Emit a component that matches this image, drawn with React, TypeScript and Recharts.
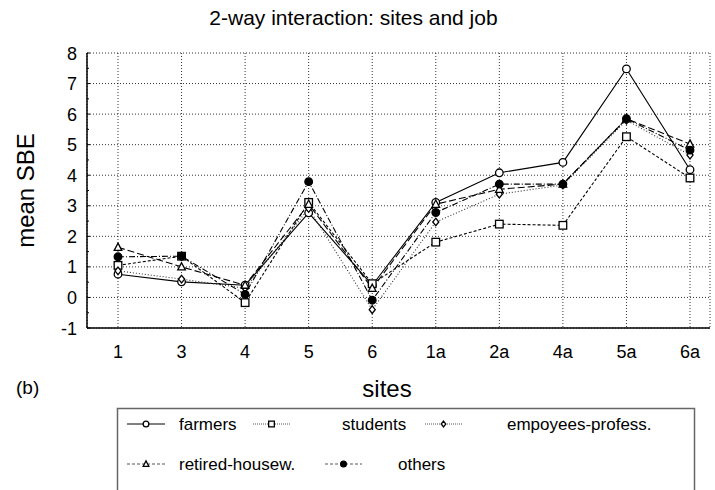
import { LineChart, Line, XAxis, YAxis, CartesianGrid, Label } from 'recharts';

const sites = ['1', '3', '4', '5', '6', '1a', '2a', '4a', '5a', '6a'];
const farmers = [0.76, 0.51, 0.4, 2.77, 0.4, 3.11, 4.08, 4.42, 7.48, 4.18];
const students = [1.05, 1.35, -0.17, 3.11, 0.45, 1.81, 2.4, 2.36, 5.26, 3.91];
const employees = [0.87, 0.6, 0.3, 2.91, -0.4, 2.47, 3.38, 3.68, 5.8, 4.66];
const retired = [1.64, 1.0, 0.4, 3.05, 0.3, 3.05, 3.54, 3.71, 5.85, 5.02];
const others = [1.33, 1.35, 0.1, 3.79, -0.09, 2.78, 3.71, 3.71, 5.85, 4.82];
const yTicks = [-1, -0.5, 0, 0.5, 1, 1.5, 2, 2.5, 3, 3.5, 4, 4.5, 5, 5.5, 6, 6.5, 7, 7.5, 8];
const yGrid = [-1, 0, 1, 2, 3, 4, 5, 6, 7, 8];

const data = sites.map((s, i) => ({
  site: s,
  farmers: farmers[i],
  students: students[i],
  employees: employees[i],
  retired: retired[i],
  others: others[i],
}));

const FONT = '"Liberation Sans", Arial, sans-serif';

type Shape = 'circle' | 'square' | 'diamond' | 'triangle' | 'dot';

function Marker({ cx, cy, shape, k = 1 }: { cx: number; cy: number; shape: Shape; k?: number }) {
  if (cx == null || cy == null) return null;
  const sw = 1.3;
  const r = 3.8 * k;
  if (shape === 'circle') return <circle cx={cx} cy={cy} r={r} fill="#fff" stroke="#000" strokeWidth={sw} />;
  if (shape === 'dot') return <circle cx={cx} cy={cy} r={r} fill="#000" stroke="#000" strokeWidth={sw} />;
  if (shape === 'square') return <rect x={cx - r} y={cy - r} width={2 * r} height={2 * r} fill="#fff" stroke="#000" strokeWidth={sw} />;
  if (shape === 'diamond')
    return <polygon points={`${cx},${cy - r} ${cx + r * 0.8},${cy} ${cx},${cy + r} ${cx - r * 0.8},${cy}`} fill="#fff" stroke="#000" strokeWidth={sw} />;
  return <polygon points={`${cx},${cy - r * 1.1} ${cx + r},${cy + r * 0.8} ${cx - r},${cy + r * 0.8}`} fill="#fff" stroke="#000" strokeWidth={sw} />;
}

const series: { key: string; name: string; shape: Shape; dash?: string; color: string }[] = [
  { key: 'farmers', name: 'farmers', shape: 'circle', color: '#000' },
  { key: 'students', name: 'students', shape: 'square', dash: '3 2', color: '#000' },
  { key: 'employees', name: 'empoyees-profess.', shape: 'diamond', dash: '1 2', color: '#333' },
  { key: 'retired', name: 'retired-housew.', shape: 'triangle', dash: '7 3', color: '#000' },
  { key: 'others', name: 'others', shape: 'dot', dash: '6 2 1 2', color: '#000' },
];

// legend: sample start, sample end, text start, row baseline (page px)
const legendPos = [
  { x1: 127, x2: 165, tx: 179, y: 424 },
  { x1: 253, x2: 290, tx: 342, y: 424 },
  { x1: 425, x2: 462, tx: 507, y: 424 },
  { x1: 127, x2: 165, tx: 179, y: 464 },
  { x1: 325, x2: 362, tx: 398, y: 464 },
];

function LegendBox() {
  const L = 117;
  const T = 408;
  return (
    <svg width={715} height={490} style={{ position: 'absolute', left: 0, top: 0, pointerEvents: 'none' }}>
      <rect x={L + 0.5} y={T + 0.5} width={577} height={120} fill="none" stroke="#666" strokeWidth={1.5} />
      {series.map((s, i) => {
        const p = legendPos[i];
        const mx = (p.x1 + p.x2) / 2;
        return (
          <g key={s.key}>
            <line x1={p.x1} x2={p.x2} y1={p.y} y2={p.y} stroke={i === 0 ? '#000' : '#555'} strokeWidth={1} strokeDasharray={i === 0 ? undefined : i === 3 || i === 4 ? '3 2' : '1 1'} />
            <Marker cx={mx} cy={p.y} shape={s.shape} k={0.75} />
            <text x={p.tx} y={p.y + 6} fontSize={17} fontFamily={FONT} fill="#000">{s.name}</text>
          </g>
        );
      })}
    </svg>
  );
}

function YTick(props: any) {
  const { y, payload } = props;
  const v = payload.value;
  const major = Number.isInteger(v);
  return (
    <g>
      <line x1={87} x2={major ? 90 : 89} y1={y} y2={y} stroke="#000" strokeWidth={1} />
      {major && (
        <text x={77} y={y + 6.5} textAnchor="end" fontSize={18} fontFamily={FONT} fill="#000">{v}</text>
      )}
    </g>
  );
}

export default function App() {
  return (
    <div style={{ position: 'absolute', left: 0, top: 0, width: 715, height: 490, background: '#fff', overflow: 'hidden', fontFamily: FONT }}>
      <div style={{ position: 'absolute', left: -4, width: 715, top: 5, textAlign: 'center', fontSize: 21, lineHeight: '26px' }}>
        2-way interaction: sites and job
      </div>
      <div style={{ position: 'absolute', left: 16, top: 376, fontSize: 19, lineHeight: '24px' }}>(b)</div>
      <div style={{ position: 'absolute', left: 287, width: 200, top: 375, textAlign: 'center', fontSize: 24, lineHeight: '28px' }}>sites</div>
      <LineChart width={715} height={490} data={data} margin={{ top: 53, right: 5, bottom: 132, left: 0 }}>
        <CartesianGrid stroke="#000" strokeWidth={0.8} strokeDasharray="1 2" horizontalValues={yGrid} />
        <XAxis
          dataKey="site"
          height={30}
          padding={{ left: 31, right: 20 }}
          tickLine={false}
          tickMargin={11}
          stroke="#000"
          strokeWidth={1.5}
          tick={{ fontSize: 18, fontFamily: FONT, fill: '#000' }}
          interval={0}
        />
        <XAxis xAxisId="top" dataKey="site" orientation="top" height={0} tick={false} tickLine={false} stroke="#777" />
        <YAxis
          domain={[-1, 8]}
          ticks={yTicks}
          width={87}
          tickLine={false}
          stroke="#000"
          strokeWidth={1.5}
          tick={<YTick />}
          interval={0}
        >
          <Label value="mean SBE" angle={-90} position="insideLeft" offset={25} style={{ fontSize: 24, fontFamily: FONT, fill: '#000', textAnchor: 'middle' }} />
        </YAxis>
        <YAxis yAxisId="right" orientation="right" width={0} domain={[-1, 8]} tick={false} tickLine={false} stroke="#777" />
        {series.map((s) => (
          <Line
            key={s.key}
            dataKey={s.key}
            name={s.name}
            stroke={s.color}
            strokeWidth={1.1}
            strokeDasharray={s.dash}
            isAnimationActive={false}
            dot={(p: any) => <Marker key={`${s.key}-${p.index}`} cx={p.cx} cy={p.cy} shape={s.shape} />}
            activeDot={false}
          />
        ))}
      </LineChart>
      <LegendBox />
    </div>
  );
}
